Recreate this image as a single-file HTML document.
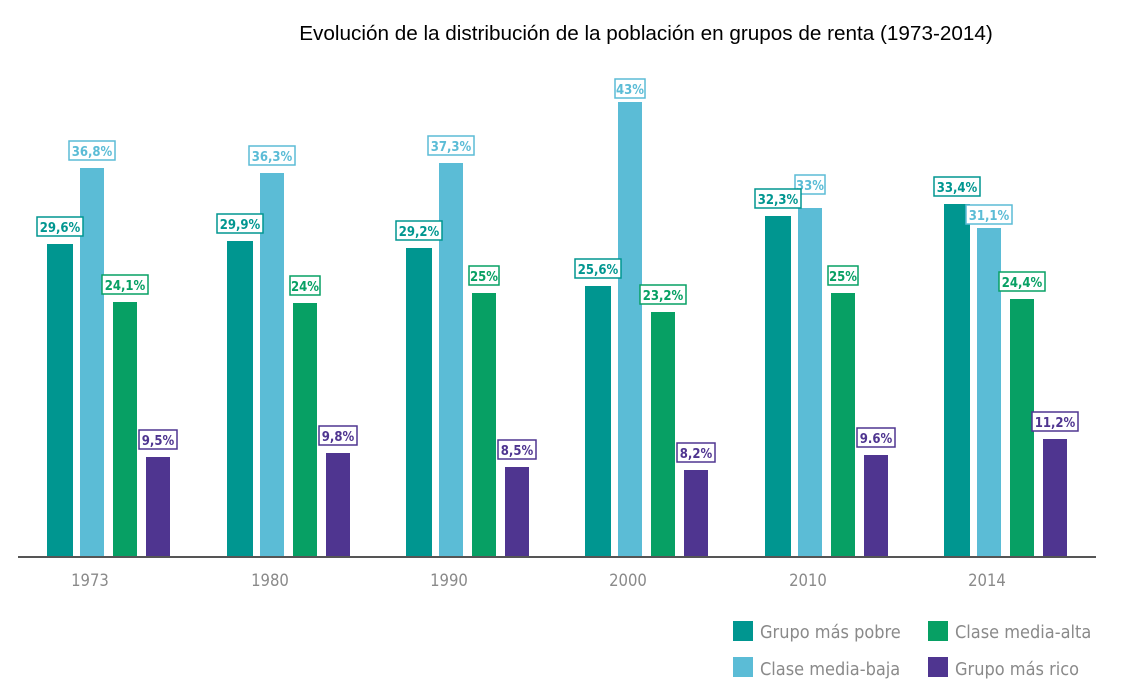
<!DOCTYPE html>
<html><head><meta charset="utf-8"><style>
body{margin:0;background:#fff;}
svg{display:block;}
.t{font-family:"Liberation Sans",sans-serif;}
.l{font-family:"DejaVu Sans Condensed","Liberation Sans",sans-serif;font-size:13px;font-weight:bold;text-anchor:middle;}
.y{font-family:"DejaVu Sans Condensed","Liberation Sans",sans-serif;font-size:16.5px;fill:#8a8a8a;text-anchor:middle;}
.g{font-family:"DejaVu Sans Condensed","Liberation Sans",sans-serif;font-size:18px;fill:#8a8a8a;}
</style></head><body>
<svg width="1132" height="695" xmlns="http://www.w3.org/2000/svg">
<text x="646" y="40" class="t" font-size="20.7" text-anchor="middle" fill="#000">Evolución de la distribución de la población en grupos de renta (1973-2014)</text>
<g id="bars">
<rect x="47" y="244" width="26" height="313" fill="#009690"/>
<rect x="80" y="168" width="24" height="389" fill="#5bbcd6"/>
<rect x="113" y="302" width="24" height="255" fill="#07a064"/>
<rect x="146" y="457" width="24" height="100" fill="#4f3590"/>
<rect x="227" y="241" width="26" height="316" fill="#009690"/>
<rect x="260" y="173" width="24" height="384" fill="#5bbcd6"/>
<rect x="293" y="303" width="24" height="254" fill="#07a064"/>
<rect x="326" y="453" width="24" height="104" fill="#4f3590"/>
<rect x="406" y="248" width="26" height="309" fill="#009690"/>
<rect x="439" y="163" width="24" height="394" fill="#5bbcd6"/>
<rect x="472" y="293" width="24" height="264" fill="#07a064"/>
<rect x="505" y="467" width="24" height="90" fill="#4f3590"/>
<rect x="585" y="286" width="26" height="271" fill="#009690"/>
<rect x="618" y="102" width="24" height="455" fill="#5bbcd6"/>
<rect x="651" y="312" width="24" height="245" fill="#07a064"/>
<rect x="684" y="470" width="24" height="87" fill="#4f3590"/>
<rect x="765" y="216" width="26" height="341" fill="#009690"/>
<rect x="798" y="208" width="24" height="349" fill="#5bbcd6"/>
<rect x="831" y="293" width="24" height="264" fill="#07a064"/>
<rect x="864" y="455" width="24" height="102" fill="#4f3590"/>
<rect x="944" y="204" width="26" height="353" fill="#009690"/>
<rect x="977" y="228" width="24" height="329" fill="#5bbcd6"/>
<rect x="1010" y="299" width="24" height="258" fill="#07a064"/>
<rect x="1043" y="439" width="24" height="118" fill="#4f3590"/>
</g>
<g fill="#fff" stroke-width="1.5">
<rect x="37" y="217" width="46" height="19" stroke="#009690"/><text x="60" y="232" class="l" fill="#009690">29,6%</text>
<rect x="69" y="141" width="46" height="19" stroke="#5bbcd6"/><text x="92" y="156" class="l" fill="#5bbcd6">36,8%</text>
<rect x="102" y="275" width="46" height="19" stroke="#07a064"/><text x="125" y="290" class="l" fill="#07a064">24,1%</text>
<rect x="139" y="430" width="38" height="19" stroke="#4f3590"/><text x="158" y="445" class="l" fill="#4f3590">9,5%</text>

<rect x="217" y="214" width="46" height="19" stroke="#009690"/><text x="240" y="229" class="l" fill="#009690">29,9%</text>
<rect x="249" y="146" width="46" height="19" stroke="#5bbcd6"/><text x="272" y="161" class="l" fill="#5bbcd6">36,3%</text>
<rect x="290" y="276" width="30" height="19" stroke="#07a064"/><text x="305" y="291" class="l" fill="#07a064">24%</text>
<rect x="319" y="426" width="38" height="19" stroke="#4f3590"/><text x="338" y="441" class="l" fill="#4f3590">9,8%</text>

<rect x="396" y="221" width="46" height="19" stroke="#009690"/><text x="419" y="236" class="l" fill="#009690">29,2%</text>
<rect x="428" y="136" width="46" height="19" stroke="#5bbcd6"/><text x="451" y="151" class="l" fill="#5bbcd6">37,3%</text>
<rect x="469" y="266" width="30" height="19" stroke="#07a064"/><text x="484" y="281" class="l" fill="#07a064">25%</text>
<rect x="498" y="440" width="38" height="19" stroke="#4f3590"/><text x="517" y="455" class="l" fill="#4f3590">8,5%</text>

<rect x="575" y="259" width="46" height="19" stroke="#009690"/><text x="598" y="274" class="l" fill="#009690">25,6%</text>
<rect x="615" y="79" width="30" height="19" stroke="#5bbcd6"/><text x="630" y="94" class="l" fill="#5bbcd6">43%</text>
<rect x="640" y="285" width="46" height="19" stroke="#07a064"/><text x="663" y="300" class="l" fill="#07a064">23,2%</text>
<rect x="677" y="443" width="38" height="19" stroke="#4f3590"/><text x="696" y="458" class="l" fill="#4f3590">8,2%</text>

<rect x="795" y="175" width="30" height="19" stroke="#5bbcd6"/><text x="810" y="190" class="l" fill="#5bbcd6">33%</text>
<rect x="755" y="189" width="46" height="19" stroke="#009690"/><text x="778" y="204" class="l" fill="#009690">32,3%</text>
<rect x="828" y="266" width="30" height="19" stroke="#07a064"/><text x="843" y="281" class="l" fill="#07a064">25%</text>
<rect x="857" y="428" width="38" height="19" stroke="#4f3590"/><text x="876" y="443" class="l" fill="#4f3590">9.6%</text>

<rect x="934" y="177" width="46" height="19" stroke="#009690"/><text x="957" y="192" class="l" fill="#009690">33,4%</text>
<rect x="966" y="205" width="46" height="19" stroke="#5bbcd6"/><text x="989" y="220" class="l" fill="#5bbcd6">31,1%</text>
<rect x="999" y="272" width="46" height="19" stroke="#07a064"/><text x="1022" y="287" class="l" fill="#07a064">24,4%</text>
<rect x="1032" y="412" width="46" height="19" stroke="#4f3590"/><text x="1055" y="427" class="l" fill="#4f3590">11,2%</text>
</g>
<line x1="18" y1="557" x2="1096" y2="557" stroke="#555" stroke-width="2"/>
<text x="90" y="586" class="y">1973</text>
<text x="270" y="586" class="y">1980</text>
<text x="449" y="586" class="y">1990</text>
<text x="628" y="586" class="y">2000</text>
<text x="808" y="586" class="y">2010</text>
<text x="987" y="586" class="y">2014</text>
<rect x="733" y="621" width="20" height="20" fill="#009690"/><text x="760" y="638" class="g">Grupo más pobre</text>
<rect x="928" y="621" width="20" height="20" fill="#07a064"/><text x="955" y="638" class="g">Clase media-alta</text>
<rect x="733" y="657" width="20" height="20" fill="#5bbcd6"/><text x="760" y="675" class="g">Clase media-baja</text>
<rect x="928" y="657" width="20" height="20" fill="#4f3590"/><text x="955" y="675" class="g">Grupo más rico</text>
</svg>
</body></html>
